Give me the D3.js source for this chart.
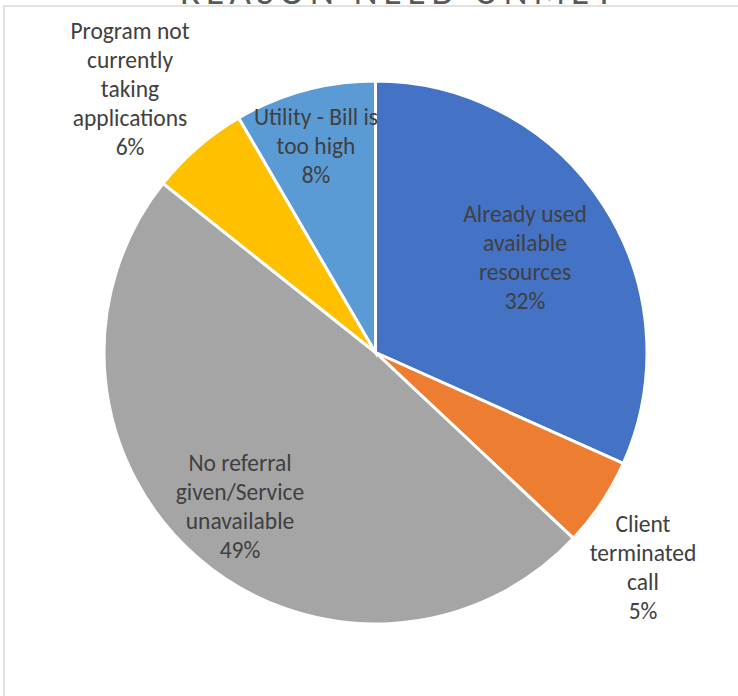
<!DOCTYPE html>
<html>
<head>
<meta charset="utf-8">
<script src="https://cdn.jsdelivr.net/npm/d3@7"></script>
<style>
  body { margin: 0; background: #fff; }
  svg { display: block; }
</style>
</head>
<body>
<div id="chart"></div>
<script>
// reasons, in the order the slices run clockwise from 12 o'clock
const categories = [
    "Already used available resources",
    "Client terminated call",
    "No referral given/Service unavailable",
    "Program not currently taking applications",
    "Utility - Bill is too high"
];
const shares = [31.7, 5.3, 48.7, 5.9, 8.4];
// how each label wraps in the original
const labelLines = [
    ["Already used", "available", "resources"],
    ["Client", "terminated", "call"],
    ["No referral", "given/Service", "unavailable"],
    ["Program not", "currently", "taking", "applications"],
    ["Utility - Bill is", "too high"]
];
const title = "REASON NEED UNMET";

const colors = ["#4472C4", "#ED7D31", "#A5A5A5", "#FFC000", "#5B9BD5"];

const width = 738;
const height = 696;
const cx = 375.5, cy = 352.5, radius = 271.5;
const font = "Carlito, Calibri, Lato, sans-serif";
const lineHeight = 29;

const svg = d3.select("#chart")
    .append("svg")
    .attr("width", width)
    .attr("height", height);

// chart frame (only top and left edges fall inside the picture)
svg.append("rect")
    .attr("x", 4)
    .attr("y", 6)
    .attr("width", 900)
    .attr("height", 900)
    .attr("fill", "none")
    .attr("stroke", "#d9d9d9")
    .attr("stroke-width", 1.5);

// title sits above the frame and is mostly cut off, as in the original
svg.append("text")
    .attr("x", 180)
    .attr("y", 3.5)
    .attr("textLength", 433)
    .attr("lengthAdjust", "spacing")
    .attr("font-family", font)
    .attr("font-size", 37)
    .attr("fill", "#595959")
    .text(title);

const pie = d3.pie().sort(null).value(d => d);
const arcs = pie(shares);
const total = d3.sum(shares);

const arc = d3.arc().innerRadius(0).outerRadius(radius);

const g = svg.append("g").attr("transform", `translate(${cx},${cy})`);

g.selectAll("path")
    .data(arcs)
    .enter()
    .append("path")
    .attr("d", arc)
    .attr("fill", (_, i) => colors[i])
    .attr("stroke", "#fff")
    .attr("stroke-width", 3);

// label centres
const labelCentres = [
    { x: 525, y: 257 },
    { x: 643, y: 567 },
    { x: 240, y: 506 },
    { x: 130, y: 89 },
    { x: 316, y: 146 }
];

const labels = svg.append("g")
    .attr("font-family", font)
    .attr("font-size", 23.5)
    .attr("fill", "#404040")
    .attr("text-anchor", "middle");

arcs.forEach((a, i) => {
    const lines = labelLines[i].concat(Math.round(a.value / total * 100) + "%");
    const c = labelCentres[i];
    const t = labels.append("text")
        .attr("x", c.x)
        .attr("y", c.y - (lines.length - 1) / 2 * lineHeight);
    lines.forEach((l, k) => {
        t.append("tspan")
            .attr("x", c.x)
            .attr("dy", k === 0 ? "0.35em" : lineHeight)
            .text(l);
    });
});
</script>
</body>
</html>
